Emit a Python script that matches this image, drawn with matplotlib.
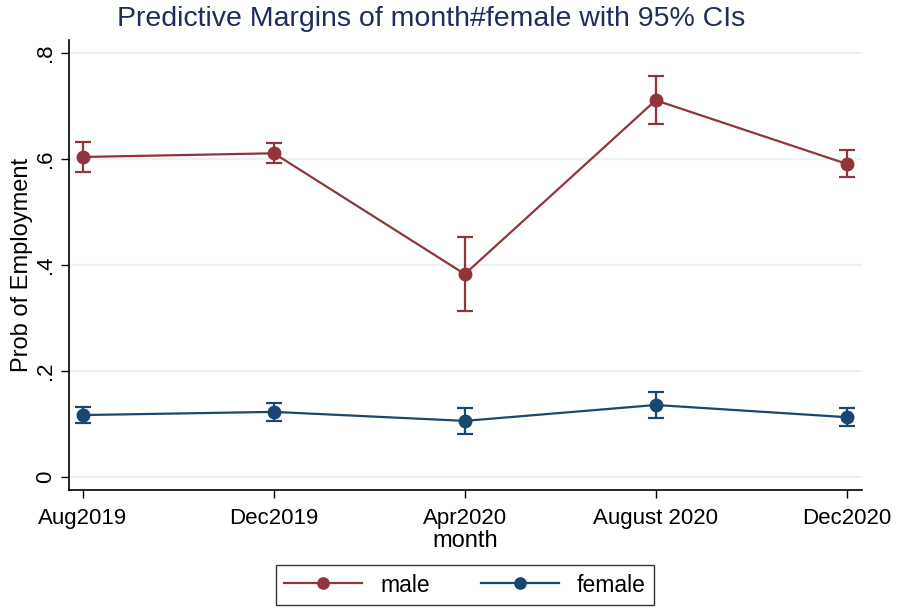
import matplotlib
matplotlib.use("Agg")
from matplotlib import pyplot as plt
import numpy as np

plt.rcParams['font.family'] = ['Liberation Sans', 'DejaVu Sans']

months = ['Aug2019', 'Dec2019', 'Apr2020', 'August 2020', 'Dec2020']
male = [0.604, 0.611, 0.383, 0.711, 0.591]
male_lo = [0.575, 0.592, 0.313, 0.666, 0.566]
male_hi = [0.632, 0.630, 0.453, 0.757, 0.617]
female = [0.117, 0.123, 0.106, 0.136, 0.113]
female_lo = [0.102, 0.106, 0.081, 0.111, 0.096]
female_hi = [0.132, 0.139, 0.131, 0.161, 0.131]
yticks = [0, 0.2, 0.4, 0.6, 0.8]
ytick_labels = ['0', '.2', '.4', '.6', '.8']

male_color = '#90353B'
female_color = '#1A476F'

fig = plt.figure(figsize=(9, 6.08), dpi=100)
ax = fig.add_axes([0.0767, 0.194, 0.881, 0.740])

x = np.arange(1, len(months) + 1)
for vals, lo, hi, color, name in [(male, male_lo, male_hi, male_color, 'male'),
                                  (female, female_lo, female_hi, female_color, 'female')]:
    vals = np.array(vals)
    err = np.vstack((vals - np.array(lo), np.array(hi) - vals))
    ax.errorbar(x, vals, yerr=err, fmt='none', ecolor=color, elinewidth=1.6,
                capsize=6, capthick=1.6, zorder=2)
    ax.plot(x, vals, color=color, lw=1.6, marker='o', markersize=9,
            label=name, zorder=3)

ax.set_xlim(0.927, 5.08)
ax.set_ylim(-0.0245, 0.8245)
ax.set_xticks(x)
ax.set_xticklabels(months, fontsize=16)
ax.set_yticks(yticks)
ax.set_yticklabels(ytick_labels, fontsize=16, rotation=90, va='center')
ax.tick_params(direction='out', length=6, width=1, color='black')
ax.tick_params(axis='x', pad=7)
ax.grid(axis='y', color='#EAF2F3', lw=1.6)
ax.set_axisbelow(True)
for side in ['top', 'right']:
    ax.spines[side].set_visible(False)
ax.spines['left'].set_linewidth(1.2)
ax.spines['bottom'].set_linewidth(1.2)

ax.set_xlabel('month', fontsize=17, labelpad=1)
ax.set_ylabel('Prob of Employment', fontsize=17, labelpad=1)

fig.text(431 / 900, 1 - 19 / 608, 'Predictive Margins of month#female with 95% CIs',
         ha='center', va='center', fontsize=20.5, color='#1E2D5C')

leg = fig.legend(loc='center', bbox_to_anchor=(465 / 900, 1 - 585 / 608), ncol=2,
                 fontsize=16.5, frameon=True, fancybox=False, edgecolor='black',
                 handlelength=3.4, columnspacing=2.2, borderpad=0.35, markerscale=0.9)
leg.get_frame().set_linewidth(1.0)

fig.savefig('out.png', dpi=100, facecolor='white')
